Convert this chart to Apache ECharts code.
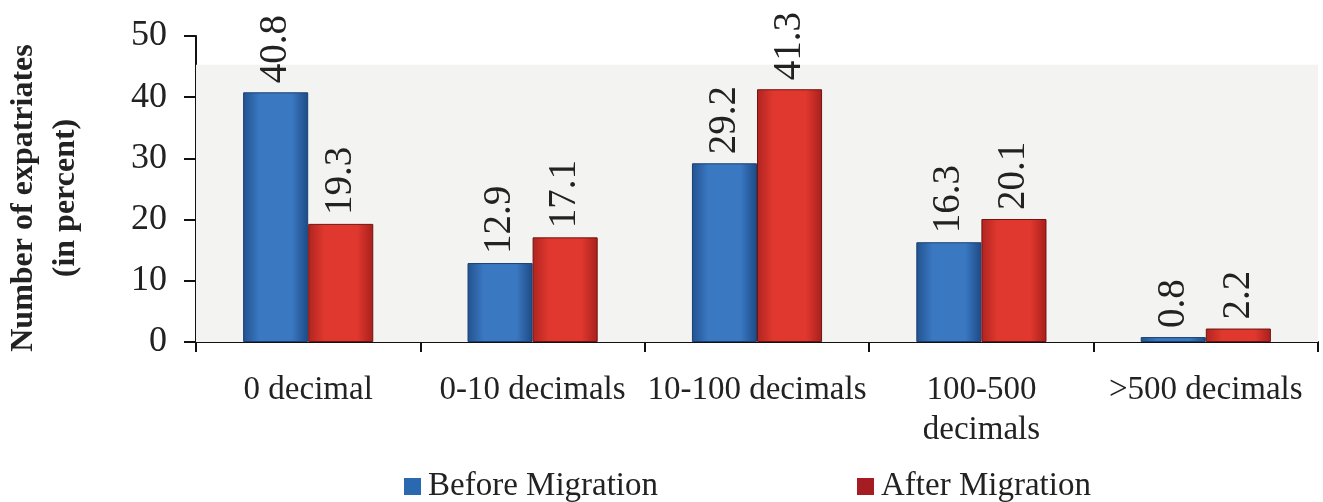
<!DOCTYPE html>
<html><head><meta charset="utf-8">
<script src="https://cdn.jsdelivr.net/npm/echarts@6/dist/echarts.min.js"></script>
<style>html,body{margin:0;padding:0;background:#fff}#c{width:1323px;height:502px}</style>
</head><body><div id="c"></div>
<script>
const categories = ['0 decimal', '0-10 decimals', '10-100 decimals', '100-500\ndecimals', '>500 decimals'];
const beforeMigration = [40.8, 12.9, 29.2, 16.3, 0.8];
const afterMigration = [19.3, 17.1, 41.3, 20.1, 2.2];
const seriesNames = ['Before Migration', 'After Migration'];
const yTitle = 'Number of expatriates\n(in percent)';
const yTicks = [0, 10, 20, 30, 40, 50];

const FONT = '"Liberation Serif", "Times New Roman", serif';
function grad(c0, c1, c2) {
  return {type: 'linear', x: 0, y: 0, x2: 1, y2: 0, colorStops: [
    {offset: 0, color: c0}, {offset: 0.25, color: c1}, {offset: 0.75, color: c1}, {offset: 1, color: c2}]};
}
const chart = echarts.init(document.getElementById('c'));
const labelCfg = {show: true, position: 'top', rotate: 90, align: 'left', verticalAlign: 'middle',
  distance: 9, fontFamily: FONT, fontSize: 39, color: '#222'};
chart.setOption({
  animation: false,
  grid: {left: 196, right: 5, top: 36, bottom: 160, containLabel: false, outerBoundsMode: 'none'},
  legend: {
    left: 399, top: 465, itemWidth: 17, itemHeight: 17, itemGap: 199, icon: 'rect',
    textStyle: {fontFamily: FONT, fontSize: 33, color: '#222', padding: [0, 0, 0, 2]},
    data: [{name: seriesNames[0], itemStyle: {color: '#2a68b0', borderWidth: 0}},
           {name: seriesNames[1], itemStyle: {color: '#a51d22', borderWidth: 0}}]
  },
  xAxis: {
    type: 'category', data: categories,
    axisLine: {lineStyle: {color: '#111', width: 2}},
    axisTick: {show: true, length: 10, lineStyle: {color: '#111', width: 2}},
    axisLabel: {fontFamily: FONT, fontSize: 33, color: '#222', margin: 28, lineHeight: 40, interval: 0}
  },
  yAxis: {
    type: 'value', min: yTicks[0], max: yTicks[yTicks.length - 1], interval: yTicks[1] - yTicks[0],
    name: yTitle, nameLocation: 'middle', nameGap: 109,
    nameTextStyle: {fontFamily: FONT, fontSize: 32, fontWeight: 'bold', color: '#222', lineHeight: 42,
      padding: [0, 18, 0, 0]},
    axisLine: {show: true, lineStyle: {color: '#111', width: 2}},
    axisTick: {show: true, length: 12, lineStyle: {color: '#111', width: 2}},
    axisLabel: {fontFamily: FONT, fontSize: 36, color: '#222', margin: 29},
    splitLine: {show: false}
  },
  series: [
    {name: seriesNames[0], type: 'bar', data: beforeMigration, barGap: '0%', barCategoryGap: '42%',
     itemStyle: {color: grad('#22528f', '#3a78c2', '#1d4a85'), borderColor: '#1a3f70', borderWidth: 1},
     label: labelCfg,
     markArea: {silent: true, itemStyle: {color: '#f3f3f1'}, data: [[{yAxis: 0}, {yAxis: 45.3}]]}},
    {name: seriesNames[1], type: 'bar', data: afterMigration,
     itemStyle: {color: grad('#b02420', '#e0382e', '#a81f1c'), borderColor: '#6e1412', borderWidth: 1},
     label: labelCfg}
  ]
});
</script></body></html>
